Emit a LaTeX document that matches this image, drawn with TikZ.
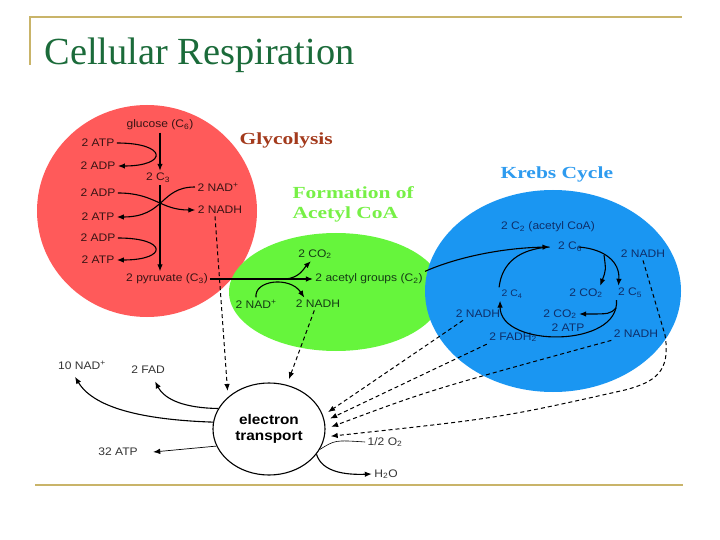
\documentclass[tikz,border=0pt]{standalone}
\usepackage{fontspec}
\setmainfont{Liberation Sans}[FakeStretch=1.1]
\newfontfamily\titlefont{Liberation Serif}
\newfontfamily\headfont{Liberation Serif}[FakeStretch=1.27]
\usetikzlibrary{shapes.geometric,arrows.meta}
\definecolor{glyred}{HTML}{FF5A5A}
\definecolor{acgreen}{HTML}{66F53C}
\definecolor{krblue}{HTML}{1A96F2}
\definecolor{titlegreen}{HTML}{1B6B3A}
\definecolor{rulegold}{HTML}{C9B469}
\definecolor{glyhead}{HTML}{A33A1C}
\definecolor{achead}{HTML}{77F046}
\definecolor{krhead}{HTML}{2E9BEF}
\definecolor{redtxt}{HTML}{3A1414}
\definecolor{greentxt}{HTML}{143C14}
\definecolor{bluetxt}{HTML}{0E2F6A}
\definecolor{outtxt}{HTML}{333333}
\begin{document}
\begin{tikzpicture}[x=1bp,y=-1bp,line width=1.1bp,>={Latex[length=7bp,width=5.5bp]}]
    \tikzstyle{every node}=[inner sep=2bp,font=\fontsize{11}{13}\selectfont]
    \tikzstyle{gly}=[text=redtxt]
    \tikzstyle{acg}=[text=greentxt]
    \tikzstyle{krb}=[text=bluetxt]
    \tikzstyle{outl}=[text=outtxt]
    \tikzstyle{stagehead}=[anchor=west,align=left,font=\headfont\bfseries\fontsize{17}{20}\selectfont]
    \tikzstyle{etflow}=[dash pattern=on 4bp off 3bp,line width=1bp,shorten >=6bp]
    \useasboundingbox (0,0) rectangle (720,540);
    % slide frame and title
    \draw[rulegold,line width=1.5bp] (30,65) -- (30,17) -- (682,17);
    \draw[rulegold,line width=1.5bp] (35,485) -- (683,485);
    \node[anchor=base west,inner sep=0,text=titlegreen,font=\titlefont\fontsize{38.5}{40}\selectfont] (title) at (44,65) {Cellular Respiration};
    % the three stages
    \fill[glyred] (147,211) ellipse [x radius=110, y radius=106];
    \fill[acgreen] (336,292) ellipse [x radius=107, y radius=59];
    \fill[krblue] (553,291) ellipse [x radius=128, y radius=101];
    \node[stagehead,text=glyhead] (glyname) at (237,140) {Glycolysis};
    \node[stagehead,text=achead] (acname) at (290,204) {Formation of\\Acetyl CoA};
    \node[stagehead,text=krhead] (krname) at (498,174) {Krebs Cycle};
    % glycolysis
    \node[gly] (glu) at (160,125) {glucose (C\textsubscript{6})};
    \node[gly] (atpa) at (98,143) {2 ATP};
    \node[gly] (adpa) at (98,166) {2 ADP};
    \node[gly] (cthree) at (158,178) {2 C\textsubscript{3}};
    \node[gly] (nadp) at (218,187) {2 NAD\textsuperscript{+}};
    \node[gly] (adpb) at (98,193) {2 ADP};
    \node[gly] (nadh) at (220,210) {2 NADH};
    \node[gly] (atpb) at (98,217) {2 ATP};
    \node[gly] (adpc) at (98,238) {2 ADP};
    \node[gly] (atpc) at (98,260) {2 ATP};
    \node[gly] (pyr) at (167,279) {2 pyruvate (C\textsubscript{3})};
    \draw[->] (glu.south) -- (glu.south |- cthree.north);
    \draw[->] (glu.south |- cthree.south) -- (glu.south |- pyr.north);
    \draw[->] (atpa.east) .. controls (168,143) and (168,166) .. (adpa.east);
    \draw[->] (adpb.east) .. controls (155,193) and (160,210) .. (nadh.west);
    \draw[->] (nadp.west) .. controls (160,187) and (165,217) .. (atpb.east);
    \draw[->] (adpc.east) .. controls (168,238) and (168,260) .. (atpc.east);
    % acetyl CoA
    \node[acg] (cotwo) at (315,254) {2 CO\textsubscript{2}};
    \node[acg] (acetyl) at (369,279) {2 acetyl groups (C\textsubscript{2})};
    \node[acg] (gnad) at (256,304) {2 NAD\textsuperscript{+}};
    \node[acg] (gnadh) at (318,304) {2 NADH};
    \coordinate (split) at (285,279);
    \draw[->] (pyr.east) -- (acetyl.west);
    \draw[->] (split) .. controls (300,278) and (304,268) .. (cotwo.-120);
    \draw[->] (gnad.north) .. controls (254,280) and (290,276) .. (gnadh.155);
    % Krebs cycle
    \node[krb] (kacoa) at (548,227) {2 C\textsubscript{2} (acetyl CoA)};
    \node[krb] (csix) at (570,247) {2 C\textsubscript{6}};
    \node[krb] (knadha) at (643,254) {2 NADH};
    \node[krb,font=\fontsize{9.5}{11}\selectfont] (cfour) at (512,294) {2 C\textsubscript{4}};
    \node[krb] (kcoa) at (586,293) {2 CO\textsubscript{2}};
    \node[krb] (cfive) at (630,293) {2 C\textsubscript{5}};
    \node[krb] (knadhb) at (478,314) {2 NADH};
    \node[krb] (kcob) at (560,314) {2 CO\textsubscript{2}};
    \node[krb] (katp) at (568,328) {2 ATP};
    \node[krb] (kfadh) at (513,337) {2 FADH\textsubscript{2}};
    \node[krb] (knadhc) at (636,334) {2 NADH};
    \coordinate (ksplita) at (604,255);
    \coordinate (ksplitb) at (616,308);
    \draw[->] (acetyl.north east) .. controls (455,258) and (500,248) .. ([xshift=-6bp]csix.west);
    \draw (cfour.north west) .. controls (502,262) and (520,249) .. ([xshift=-6bp]csix.west);
    \draw[->] ([xshift=-6bp]csix.east) .. controls (605,249) and (620,262) .. ([xshift=3bp]cfive.north west);
    \draw[->] (ksplita) .. controls (606,270) .. ([xshift=-5bp]kcoa.north east);
    \draw[->] ([xshift=1bp]cfive.south west) .. controls (620,348) and (500,348) .. ([xshift=1bp]cfour.south west);
    \draw[->] (ksplitb) .. controls (610,314) .. (kcob.east);
    % electron transport
    \node[draw,ellipse,minimum width=112bp,minimum height=92bp,inner sep=0,align=center,font=\bfseries\fontsize{14}{16}\selectfont] (et) at (269,429) {electron\\transport};
    \node[outl] (nadten) at (82,365) {10 NAD\textsuperscript{+}};
    \node[outl] (fad) at (148,370) {2 FAD};
    \node[outl] (atpl) at (118,452) {32 ATP};
    \node[outl] (oxy) at (385,442) {1/2 O\textsubscript{2}};
    \node[outl] (water) at (386,474) {H\textsubscript{2}O};
    \draw[etflow,->] ([xshift=-5bp]nadh.south) -- (et.142);
    \draw[etflow,->] (gnadh.-120) -- (et.68);
    \draw[etflow,->] ([xshift=-15bp]knadhb.south) -- (et.14);
    \draw[etflow,->] (kfadh.south west) -- (et.8);
    \draw[etflow,->] (knadhc.south west) .. controls (430,390) .. (et.0);
    \draw[etflow,->] (knadha.south) -- (665,335) .. controls (671,372) and (655,382) .. (625,390) .. controls (500,418) .. (et.-8);
    \draw[->] (et.173) .. controls (150,420) and (95,410) .. ([xshift=-7bp,yshift=-5bp]nadten.south);
    \draw[->] (et.158) .. controls (185,408) and (165,400) .. ([xshift=7bp,yshift=-5bp]fad.south);
    \draw[->,line width=0.7bp] (et.198) -- ([xshift=13bp]atpl.east);
    \draw[line width=0.6bp] (oxy.west) .. controls (335,440) .. (et.-22);
    \draw[->] (et.-28) .. controls (322,472) and (345,475) .. (water.west);
\end{tikzpicture}
\end{document}
